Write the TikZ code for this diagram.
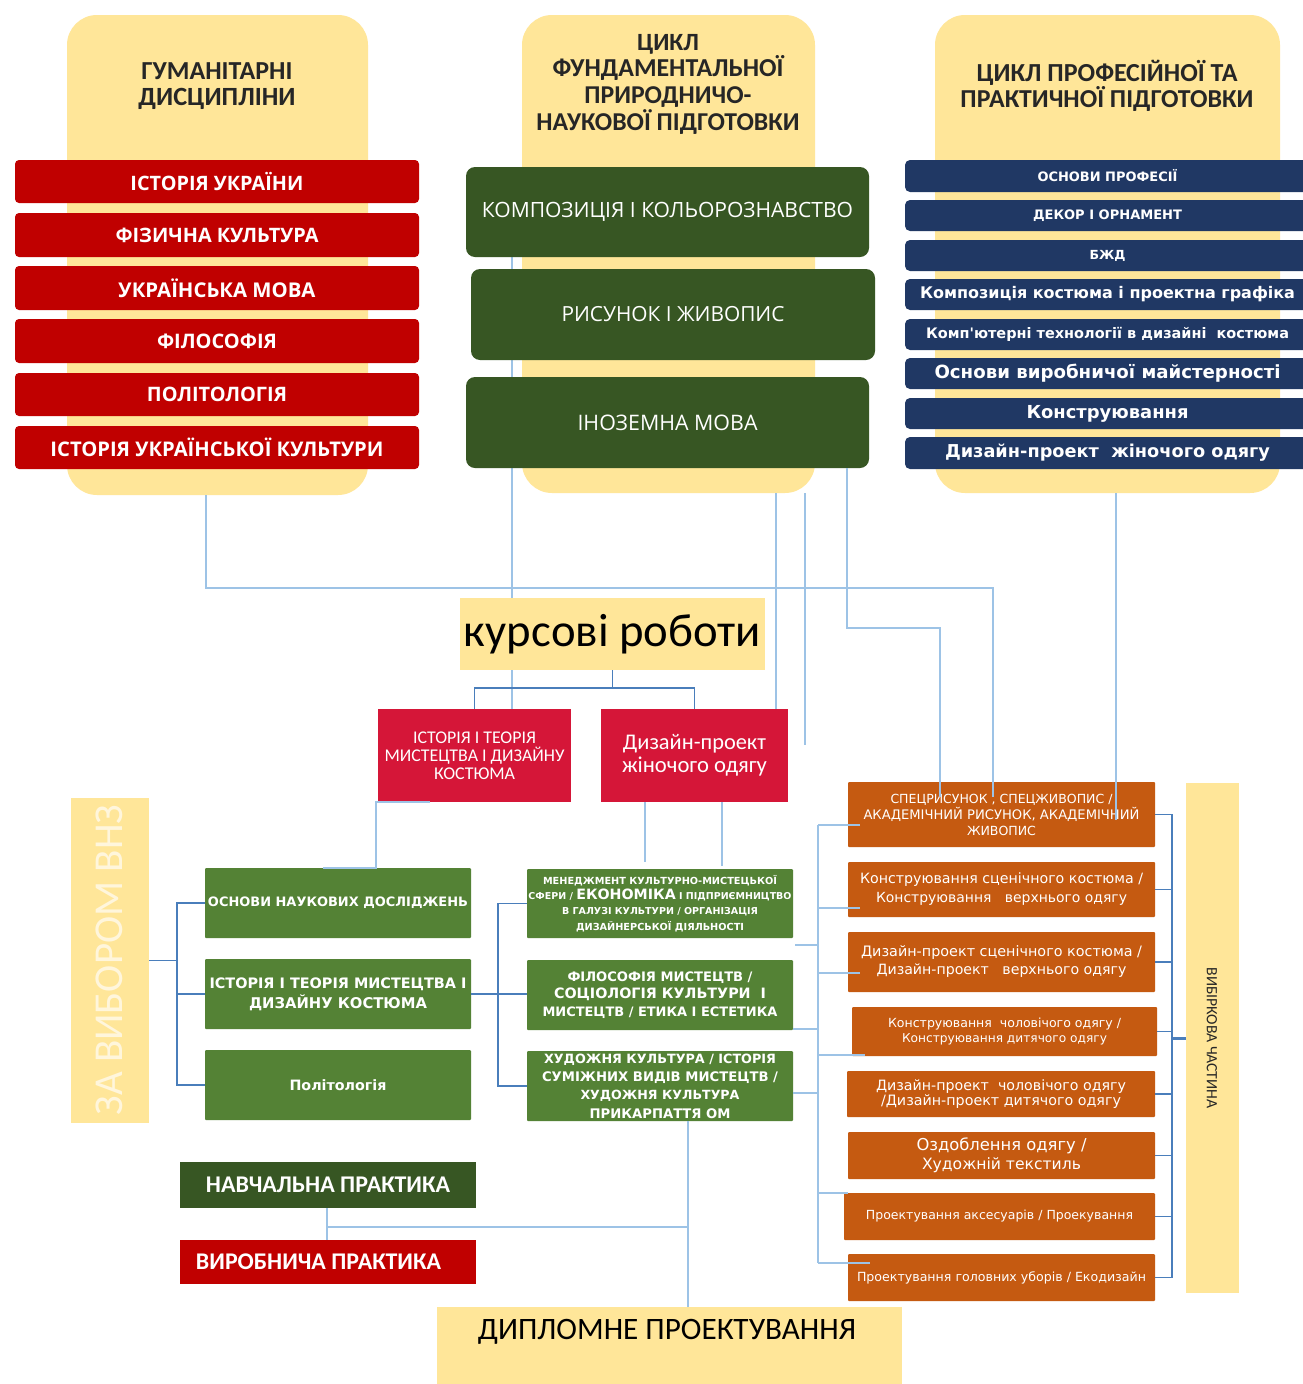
\documentclass[tikz,border=0pt]{standalone}
\usepackage{fontspec}
\usepackage{graphicx}
\setmainfont{Carlito}
\newfontfamily\osf{Open Sans}
\newfontfamily\djf{DejaVu Sans}
\usetikzlibrary{calc}
\pgfdeclarelayer{background}
\pgfsetlayers{background,main}
\definecolor{yel}{HTML}{FFE699}
\definecolor{dred}{HTML}{C00000}
\definecolor{dgreen}{HTML}{375623}
\definecolor{navy}{HTML}{203864}
\definecolor{crim}{HTML}{D51638}
\definecolor{mgreen}{HTML}{548235}
\definecolor{orng}{HTML}{C55A11}
\definecolor{lblue}{HTML}{9DC3E6}
\definecolor{dblue}{HTML}{4A7EBB}
\definecolor{ttlc}{HTML}{262626}
\definecolor{vybc}{HTML}{FFF6DC}
\newcommand\W[2]{\resizebox{#1pt}{!}{#2}}
\tikzset{
 bx/.style args={#1/#2}{anchor=north west, inner sep=0pt, outer sep=0pt, minimum width=#1pt, minimum height=#2pt, align=center, text=white},
 lb/.style={draw=lblue, line width=1.3pt},
 db/.style={draw=dblue, line width=1.6pt},
 ylw/.style={fill=yel, rounded corners=30pt},
 ttlst/.style={text=ttlc, align=center, inner sep=0pt, font=\bfseries\fontsize{18}{26}\selectfont},
 redbox/.style={fill=dred, rounded corners=4pt, font=\osf\bfseries\fontsize{17}{20}\selectfont},
 gbox/.style={fill=dgreen, rounded corners=9pt, font=\osf\fontsize{17}{20}\selectfont},
 nbox/.style={fill=navy, rounded corners=5pt, font=\djf\bfseries\fontsize{14}{18}\selectfont},
 mbox/.style={fill=mgreen, rounded corners=1pt},
 obox/.style={fill=orng, rounded corners=1pt},
}
\begin{document}
\begin{tikzpicture}[x=1pt,y=-1pt]
\useasboundingbox (0,0) rectangle (1303,1384);
\begin{pgfonlayer}{background}
\fill[white] (0,0) rectangle (1303,1384);
\end{pgfonlayer}

% ---------- top yellow columns ----------
\node[bx=301/480, ylw] (hum) at (67,15) {};
\node[bx=293/478, ylw] (fund) at (522,15) {};
\node[bx=345/478, ylw] (prof) at (935,15) {};

\node[ttlst] (humT) at (217,86) {\W{151}{ГУМАНІТАРНІ}\\\W{157}{ДИСЦИПЛІНИ}};
\node[ttlst, font=\bfseries\fontsize{18}{26.7}\selectfont] (fundT) at (668,84) {\W{62}{ЦИКЛ}\\\W{231}{ФУНДАМЕНТАЛЬНОЇ}\\\W{167}{ПРИРОДНИЧО-}\\\W{263}{НАУКОВОЇ ПІДГОТОВКИ}};
\node[ttlst] (profT) at (1107,86) {\W{261}{ЦИКЛ ПРОФЕСІЙНОЇ ТА}\\\W{293}{ПРАКТИЧНОЇ ПІДГОТОВКИ}};

% ---------- humanities (red) ----------
\node[bx=404/43, redbox] (h1) at (15,160) {\W{173}{ІСТОРІЯ УКРАЇНИ}};
\node[bx=404/44, redbox] (h2) at (15,213) {\W{203}{ФІЗИЧНА КУЛЬТУРА}};
\node[bx=404/44, redbox] (h3) at (15,266) {\W{197}{УКРАЇНСЬКА МОВА}};
\node[bx=404/44, redbox] (h4) at (15,319) {\W{120}{ФІЛОСОФІЯ}};
\node[bx=404/43, redbox] (h5) at (15,373) {\W{140}{ПОЛІТОЛОГІЯ}};
\node[bx=404/43, redbox] (h6) at (15,426) {\W{333}{ІСТОРІЯ УКРАЇНСЬКОЇ КУЛЬТУРИ}};

% ---------- fundamental (dark green) ----------
\node[bx=403/90, gbox] (komp) at (466,167) {\W{371}{КОМПОЗИЦІЯ І КОЛЬОРОЗНАВСТВО}};
\node[bx=404/91, gbox] (ris) at (471,269) {\W{223}{РИСУНОК І ЖИВОПИС}};
\node[bx=403/91, gbox] (ino) at (466,377) {\W{180}{ІНОЗЕМНА МОВА}};

% ---------- professional (navy) ----------
\node[bx=405/32, nbox] (b1) at (905,160) {\W{140}{ОСНОВИ ПРОФЕСІЇ}};
\node[bx=405/31, nbox] (b2) at (905,200) {\W{149}{ДЕКОР І ОРНАМЕНТ}};
\node[bx=405/31, nbox] (b3) at (905,240) {\W{36}{БЖД}};
\node[bx=405/31, nbox] (b4) at (905,279) {\W{375}{Композиція костюма і проектна графіка}};
\node[bx=405/31, nbox] (b5) at (905,319) {\W{363}{Комп'ютерні технології в дизайні\ \ костюма}};
\node[bx=405/31, nbox] (b6) at (905,358) {\W{346}{Основи виробничої майстерності}};
\node[bx=405/31, nbox] (b7) at (905,398) {\W{162}{Конструювання}};
\node[bx=405/32, nbox] (b8) at (905,437) {\W{325}{Дизайн-проект\ \ жіночого одягу}};

% ---------- course works ----------
\node[bx=305/72, fill=yel, text=black] (kurs) at (460,598) {\W{297}{курсові роботи}};
\node[bx=193/93, fill=crim, font=\fontsize{13}{18}\selectfont] (r1) at (378,709) {\W{123}{ІСТОРІЯ І ТЕОРІЯ}\\\W{180}{МИСТЕЦТВА І ДИЗАЙНУ}\\\W{81}{КОСТЮМА}};
\node[bx=187/93, fill=crim, font=\fontsize{18}{23}\selectfont] (r2) at (601,709) {\W{143}{Дизайн-проект}\\\W{145}{жіночого одягу}};

% ---------- за вибором ВНЗ ----------
\node[bx=78/325, fill=yel] (zav) at (71,798) {};
\node[rotate=90, text=vybc, inner sep=0pt] (zavT) at (109,960) {\W{310}{ЗА ВИБОРОМ ВНЗ}};

\node[bx=266/70, mbox, font=\djf\bfseries\fontsize{13}{20}\selectfont] (g1) at (205,868) {\W{260}{ОСНОВИ НАУКОВИХ ДОСЛІДЖЕНЬ}};
\node[bx=266/70, mbox, font=\djf\bfseries\fontsize{13}{20}\selectfont] (g2) at (205,959) {\W{257}{ІСТОРІЯ І ТЕОРІЯ МИСТЕЦТВА І}\\\W{178}{ДИЗАЙНУ КОСТЮМА}};
\node[bx=266/70, mbox, font=\djf\bfseries\fontsize{13}{20}\selectfont] (g3) at (205,1050) {\W{97}{Політологія}};

\node[bx=266/69, mbox, font=\djf\bfseries\fontsize{10}{15.2}\selectfont] (m1) at (527,869) {\W{234}{МЕНЕДЖМЕНТ КУЛЬТУРНО-МИСТЕЦЬКОЇ}\\\W{263}{СФЕРИ / {\fontsize{15}{15}\selectfont ЕКОНОМІКА} І ПІДПРИЄМНИЦТВО}\\\W{196}{В ГАЛУЗІ КУЛЬТУРИ / ОРГАНІЗАЦІЯ}\\\W{168}{ДИЗАЙНЕРСЬКОЇ ДІЯЛЬНОСТІ}};
\node[bx=266/70, mbox, font=\djf\bfseries\fontsize{12}{17.5}\selectfont] (m2) at (527,960) {\W{185}{ФІЛОСОФІЯ МИСТЕЦТВ /}\\\W{212}{СОЦІОЛОГІЯ КУЛЬТУРИ\ \ І}\\\W{235}{МИСТЕЦТВ / ЕТИКА І ЕСТЕТИКА}};
\node[bx=266/70, mbox, font=\djf\bfseries\fontsize{12}{18.3}\selectfont] (m3) at (527,1051) {\W{232}{ХУДОЖНЯ КУЛЬТУРА / ІСТОРІЯ}\\\W{236}{СУМІЖНИХ ВИДІВ МИСТЕЦТВ /}\\\W{159}{ХУДОЖНЯ КУЛЬТУРА}\\\W{141}{ПРИКАРПАТТЯ ОМ}};

% ---------- practice & diploma ----------
\node[bx=296/46, fill=dgreen, font=\bfseries] (nav) at (180,1162) {\W{244}{НАВЧАЛЬНА ПРАКТИКА}};
\node[bx=296/44, fill=dred, font=\bfseries] (vyr) at (180,1240) {\W{245}{ВИРОБНИЧА ПРАКТИКА}\hspace*{19pt}};
\node[bx=465/80, fill=yel] (dip) at (437,1307) {};
\node[text=black, inner sep=0pt] (dipT) at (667,1332) {\W{378}{ДИПЛОМНЕ ПРОЕКТУВАННЯ}};

% ---------- elective (orange) ----------
\node[bx=307/65, obox, font=\djf\fontsize{11}{16}\selectfont] (o1) at (848,782) {\W{222}{СПЕЦРИСУНОК , СПЕЦЖИВОПИС /}\\\W{276}{АКАДЕМІЧНИЙ РИСУНОК, АКАДЕМІЧНИЙ}\\\W{69}{ЖИВОПИС}};
\node[bx=307/55, obox, font=\djf\fontsize{13}{19}\selectfont] (o2) at (848,862) {\W{283}{Конструювання сценічного костюма /}\\\W{251}{Конструювання\ \ \ верхнього одягу}};
\node[bx=307/60, obox, font=\djf\fontsize{13}{18}\selectfont] (o3) at (848,932) {\W{281}{Дизайн-проект сценічного костюма /}\\\W{250}{Дизайн-проект\ \ \ верхнього одягу}};
\node[bx=305/49, obox, font=\djf\fontsize{11}{15}\selectfont] (o4) at (852,1007) {\W{233}{Конструювання\ \ чоловічого одягу /}\\\W{205}{Конструювання дитячого одягу}};
\node[bx=308/46, obox, font=\djf\fontsize{12}{15}\selectfont] (o5) at (847,1071) {\W{250}{Дизайн-проект\ \ чоловічого одягу}\\\W{240}{/Дизайн-проект дитячого одягу}};
\node[bx=307/47, obox, font=\djf\fontsize{15}{19}\selectfont] (o6) at (848,1132) {\W{170}{Оздоблення одягу /}\\\W{159}{Художній текстиль}};
\node[bx=311/47, obox, font=\djf\fontsize{10}{14}\selectfont] (o7) at (844,1193) {\W{267}{Проектування аксесуарів / Проекування}};
\node[bx=307/47, obox, font=\djf\fontsize{10}{14}\selectfont] (o8) at (848,1254) {\W{289}{Проектування головних уборів / Екодизайн}};

\node[bx=53/510, fill=yel] (vib) at (1186,783) {};
\node[rotate=-90, text=ttlc, inner sep=0pt] (vibT) at (1212,1038) {\W{141}{ВИБІРКОВА ЧАСТИНА}};

% ---------- coordinates for connector corners ----------
\coordinate (c206) at (206,588);
\coordinate (c993) at (993,588);
\coordinate (c993e) at (993,797);
\coordinate (c512) at (512,0);
\coordinate (c776) at (776,0);
\coordinate (c805) at (805,0);
\coordinate (c805e) at (805,745);
\coordinate (c847) at (847,0);
\coordinate (c940) at (940,628);
\coordinate (c940e) at (940,797);
\coordinate (c1116) at (1116,0);
\coordinate (c1116e) at (1116,820);
\coordinate (c430) at (430,0);
\coordinate (c376) at (376,0);
\coordinate (c323) at (323,0);
\coordinate (c645) at (645,0);
\coordinate (c645e) at (645,862);
\coordinate (c722) at (722,0);
\coordinate (c722e) at (722,866);
\coordinate (c688) at (688,0);
\coordinate (c327) at (327,0);
\coordinate (j1) at (327,1227);
\coordinate (j2) at (688,1227);
\coordinate (rb) at (1172,0);
\coordinate (ob1) at (818,825);
\coordinate (ob2) at (818,908);
\coordinate (ob3) at (818,973);
\coordinate (ob4) at (818,1055);
\coordinate (ob7) at (818,1193);
\coordinate (ob8) at (818,1263);
\coordinate (mi1) at (795,945);
\coordinate (mi2) at (793,1029);
\coordinate (mi3) at (793,1093);

% ---------- connectors ----------
\begin{pgfonlayer}{background}
\draw[lb] (komp.south -| c512) -- (r1.north -| c512);
\end{pgfonlayer}

\draw[lb] (hum.south -| c206) -- (c206) -- (c993) -- (c993e);
\draw[lb] (fund.south -| c776) -- (r2.north -| c776);
\draw[lb] (fund.south -| c805) -- (c805e);
\draw[lb] (ino.south -| c847) |- (c940) -- (c940e);
\draw[lb] (prof.south -| c1116) -- (c1116e);

\draw[db] (kurs.south) -- ++(0,18) -| (r1.north);
\draw[db] (kurs.south) ++(0,18) -| (r2.north);

\draw[lb] (r1.south -| c430) -- (r1.south -| c376) -- (g1.north -| c376) -- (g1.north -| c323);
\draw[lb] (r2.south -| c645) -- (c645e);
\draw[lb] (r2.south -| c722) -- (c722e);

\draw[db] (zav.east) -- ++(28,0);
\draw[db] (g1.west) -- ++(-28,0) |- (g3.west);
\draw[db] (g2.west) -- ++(-28,0);

\draw[db] (m1.west) -- ++(-29,0) |- (m3.west);
\draw[db] (g2.east) -- (m2.west |- g2.east);

\draw[lb] (m3.south -| c688) -- (dip.north -| c688);
\draw[lb] (nav.south -| c327) -- (vyr.north -| c327);
\draw[lb] (j1) -- (j2);

\draw[lb] (ob1) -- (ob8);
\draw[lb] (ob1) -- (ob1 -| o1.west) -- ++(12,0);
\draw[lb] (ob2) -- (ob2 -| o2.west) -- ++(12,0);
\draw[lb] (ob3) -- (ob3 -| o3.west) -- ++(12,0);
\draw[lb] (ob4) -- (ob4 -| o4.west) -- ++(13,0);
\draw[lb] (ob7) -- (ob7 -| o7.west) -- ++(4,0);
\draw[lb] (ob8) -- (ob8 -| o8.west) -- ++(22,0);
\draw[lb] (mi1) -- (mi1 -| ob1);
\draw[lb] (mi2) -- (mi2 -| ob1);
\draw[lb] (mi3) -- (mi3 -| ob1);

\draw[db] (o1.east) -- (o1.east -| rb) |- (o8.east);
\foreach \o in {o2,o3,o4,o5,o6,o7} \draw[db] (\o.east) -- (\o.east -| rb);
\draw[db, line width=3pt] (vib.west) -- (vib.west -| rb);
\end{tikzpicture}
\end{document}
